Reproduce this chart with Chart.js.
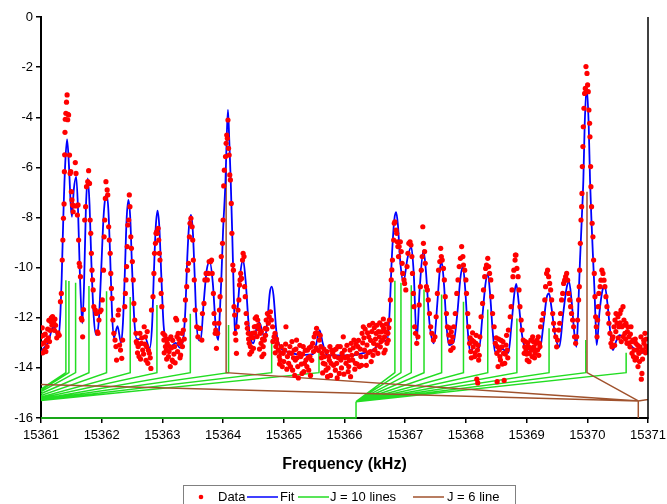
<!DOCTYPE html>
<html lang="en">
<head>
<meta charset="UTF-8">
<title>Spectrum and fit</title>
<script src="https://cdn.jsdelivr.net/npm/chart.js"></script>
<style>
  html, body { margin: 0; padding: 0; background: #fff; }
  .wrap { width: 667px; height: 504px; }
</style>
</head>
<body>
<div class="wrap"><canvas id="spectrum" width="667" height="504"></canvas></div>
<script>
// tick labels
const xTicks = [15361, 15362, 15363, 15364, 15365, 15366, 15367, 15368, 15369, 15370, 15371];
const yTicks = [0, -2, -4, -6, -8, -10, -12, -14, -16];

// measured points [frequency kHz, signal]
const dataPoints = [
[15361.00,-12.75],[15361.01,-13.05],[15361.02,-12.40],[15361.03,-13.40],[15361.04,-12.70],[15361.05,-13.00],[15361.06,-13.30],[15361.07,-12.65],[15361.08,-13.35],[15361.09,-12.90],[15361.10,-13.15],[15361.11,-12.45],[15361.12,-12.80],[15361.13,-12.10],[15361.14,-12.95],[15361.15,-12.50],[15361.16,-12.15],[15361.17,-12.00],[15361.18,-12.30],[15361.19,-11.95],[15361.20,-12.10],[15361.21,-12.20],[15361.22,-12.50],[15361.23,-12.05],[15361.24,-12.30],[15361.26,-12.80],[15361.28,-12.60],[15361.30,-12.70],
[15361.32,-11.36],[15361.335,-11.03],[15361.35,-9.70],[15361.36,-8.90],[15361.37,-8.03],[15361.38,-7.46],[15361.385,-6.17],[15361.39,-5.50],[15361.395,-4.60],[15361.40,-4.08],[15361.41,-3.84],[15361.42,-3.40],[15361.43,-3.11],[15361.44,-4.10],[15361.445,-3.88],[15361.455,-3.91],[15361.47,-5.51],[15361.48,-6.24],[15361.49,-6.17],[15361.50,-6.97],[15361.51,-7.30],[15361.52,-7.50],[15361.53,-7.77],
[15361.54,-7.54],[15361.565,-5.81],[15361.577,-6.24],[15361.588,-7.54],[15361.60,-7.90],[15361.61,-7.50],[15361.62,-8.90],[15361.63,-9.83],[15361.64,-9.96],[15361.65,-10.36],[15361.665,-12.02],[15361.675,-12.09],[15361.686,-12.76],[15361.70,-11.67],
[15361.72,-8.10],[15361.735,-7.57],[15361.75,-6.77],[15361.77,-6.57],[15361.785,-6.13],[15361.80,-6.64],[15361.81,-8.10],[15361.82,-8.63],[15361.83,-9.43],[15361.84,-10.10],[15361.85,-10.49],[15361.86,-10.89],[15361.87,-11.56],[15361.895,-11.69],[15361.91,-11.83],[15361.93,-12.56],[15361.94,-12.62],[15361.955,-12.09],[15361.97,-11.76],[15361.99,-11.69],[15362.01,-11.29],
[15362.03,-10.10],[15362.04,-8.77],[15362.05,-8.10],[15362.06,-7.24],[15362.07,-6.57],[15362.09,-6.90],[15362.10,-7.10],[15362.115,-8.37],[15362.125,-8.90],[15362.14,-9.43],[15362.15,-10.23],[15362.16,-10.83],[15362.17,-11.23],[15362.185,-12.09],[15362.20,-12.62],[15362.22,-12.89],[15362.235,-13.15],[15362.245,-13.69],[15362.27,-11.89],[15362.28,-11.69],[15362.295,-13.09],[15362.31,-13.29],[15362.33,-13.62],[15362.345,-12.89],
[15362.38,-11.56],[15362.39,-11.03],[15362.40,-10.49],[15362.41,-9.96],[15362.42,-9.16],[15362.43,-8.30],[15362.445,-8.10],[15362.455,-7.10],[15362.465,-7.57],[15362.48,-8.77],[15362.49,-9.23],[15362.505,-9.76],[15362.52,-10.49],[15362.53,-11.43],[15362.545,-12.09],[15362.565,-12.62],[15362.58,-13.02],[15362.60,-13.15],[15362.615,-13.55],[15362.63,-12.62],[15362.655,-13.02],[15362.675,-13.29],[15362.70,-12.36],[15362.72,-12.76],[15362.74,-13.15],[15362.76,-13.82],[15362.785,-13.42],[15362.81,-14.02],[15362.82,-11.69],
[15362.845,-11.16],[15362.86,-10.23],[15362.87,-9.43],[15362.885,-9.03],[15362.895,-8.63],[15362.905,-8.57],[15362.915,-8.63],[15362.93,-8.43],[15362.94,-8.90],[15362.95,-9.43],[15362.96,-9.70],[15362.97,-10.49],[15362.98,-11.03],[15362.99,-11.56],[15363.01,-12.62],[15363.025,-12.89],[15363.05,-13.15],[15363.065,-13.29],[15363.08,-13.02],[15363.10,-13.55],[15363.12,-13.15],[15363.14,-12.76],[15363.16,-13.69],[15363.175,-13.75],[15363.20,-13.15],[15363.22,-12.02],[15363.235,-12.09],[15363.26,-12.62],[15363.28,-13.02],[15363.30,-13.49],[15363.32,-12.62],[15363.345,-12.49],[15363.37,-12.09],[15363.38,-11.29],
[15363.40,-10.76],[15363.415,-10.10],[15363.43,-9.83],[15363.445,-8.77],[15363.455,-8.23],[15363.47,-8.03],[15363.49,-8.37],[15363.50,-8.90],[15363.51,-9.70],[15363.525,-10.49],[15363.54,-11.69],[15363.565,-12.36],[15363.585,-12.76],[15363.61,-12.42],
[15363.62,-12.42],[15363.65,-12.89],[15363.66,-11.83],[15363.685,-11.43],[15363.70,-10.49],[15363.72,-10.23],[15363.74,-10.49],[15363.755,-10.23],[15363.77,-9.76],[15363.795,-9.76],[15363.81,-9.70],[15363.82,-10.23],[15363.84,-11.03],[15363.85,-11.83],[15363.86,-12.22],[15363.87,-12.62],[15363.88,-12.49],[15363.89,-13.22],[15363.91,-12.62],[15363.93,-12.22],[15363.94,-11.69],[15363.95,-11.16],[15363.96,-10.49],[15363.97,-9.56],[15363.99,-9.03],[15364.00,-8.10],[15364.01,-6.74],[15364.02,-6.11],[15364.04,-5.57],[15364.05,-5.04],[15364.06,-4.71],[15364.07,-4.84],[15364.08,-4.11],[15364.09,-5.24],[15364.10,-5.51],[15364.11,-6.30],[15364.12,-6.50],[15364.135,-7.44],[15364.145,-8.63],[15364.16,-9.90],[15364.17,-10.10],[15364.18,-11.56],[15364.19,-11.89],[15364.20,-12.62],[15364.21,-12.89],[15364.22,-13.42],[15364.235,-12.36],[15364.245,-11.69],[15364.26,-11.29],[15364.27,-10.69],[15364.28,-10.49],[15364.29,-10.23],[15364.305,-10.43],[15364.32,-9.70],[15364.33,-9.43],[15364.345,-9.56],[15364.355,-10.76],[15364.365,-11.16],[15364.38,-11.83],[15364.39,-12.22],[15364.40,-12.42],[15364.415,-12.62],[15364.43,-13.02],[15364.45,-13.15],[15364.465,-12.76],[15364.48,-12.62],[15364.50,-13.22],[15364.515,-12.36],[15364.53,-12.02],[15364.55,-11.96],[15364.57,-12.09],[15364.585,-12.29],[15364.61,-12.62],[15364.625,-13.02],[15364.64,-13.55],[15364.66,-13.15],[15364.68,-12.89],[15364.695,-12.42],[15364.71,-12.09],[15364.73,-11.83],[15364.745,-12.22],[15364.76,-11.96],[15364.78,-11.76],[15364.795,-12.09],[15364.815,-12.36],[15364.84,-12.76],[15364.855,-12.62],[15364.87,-13.15],[15364.89,-13.02],[15364.91,-13.29],[15364.925,-13.55],[15364.94,-13.69],[15364.96,-13.15],[15364.975,-13.95],[15364.99,-13.42],
[15365.015,-13.29],[15365.035,-12.36],[15365.06,-13.55],[15365.08,-13.82],[15365.10,-13.15],[15365.125,-13.42],[15365.145,-14.09],[15365.17,-13.29],[15365.19,-13.69],[15365.21,-12.89],[15365.23,-13.95],[15365.255,-13.42],[15365.28,-13.55],[15365.30,-14.22],[15365.32,-13.15],[15365.34,-13.82],[15365.365,-13.69],[15365.39,-13.29],[15365.41,-14.09],[15365.43,-13.55],[15365.45,-13.15],[15365.475,-13.02],[15365.50,-12.76],[15365.52,-12.62],[15365.54,-12.42],[15365.56,-12.62],[15365.585,-12.89],[15365.61,-13.15],[15365.63,-13.42],[15365.65,-13.82],[15365.67,-13.55],[15365.695,-14.09],[15365.72,-14.35],[15365.74,-13.55],[15365.76,-13.15],[15365.78,-13.82],[15365.805,-13.42],[15365.83,-13.29],[15365.85,-14.09],[15365.87,-13.82],[15365.89,-13.15],[15365.915,-14.22],[15365.94,-13.69],[15365.96,-13.42],[15365.98,-12.76],[15366.00,-13.29],[15366.025,-13.82],[15366.05,-13.55],[15366.07,-13.95],[15366.09,-13.29],[15366.11,-13.02],[15366.135,-13.69],[15366.155,-12.89],[15366.18,-13.82],[15366.20,-13.42],[15366.22,-13.15],[15366.245,-13.95],[15366.27,-13.55],[15366.29,-12.62],[15366.31,-12.36],
[15366.33,-13.29],[15366.35,-13.55],[15366.37,-13.09],[15366.40,-12.76],[15366.425,-13.35],[15366.44,-13.75],[15366.465,-12.22],[15366.48,-13.02],[15366.50,-13.29],[15366.52,-12.62],[15366.535,-13.09],[15366.55,-13.42],[15366.575,-12.76],[15366.59,-13.16],[15366.61,-12.56],[15366.63,-12.89],[15366.645,-12.42],[15366.66,-12.76],[15366.67,-13.29],[15366.68,-12.56],[15366.70,-13.02],[15366.715,-12.62],
[15366.74,-12.09],[15366.755,-11.29],[15366.77,-10.49],[15366.78,-10.09],[15366.79,-9.70],[15366.81,-8.90],[15366.82,-8.23],[15366.83,-8.17],[15366.85,-8.50],[15366.86,-8.63],[15366.87,-8.97],[15366.88,-9.16],[15366.89,-9.56],[15366.90,-9.16],[15366.92,-8.97],[15366.935,-9.36],[15366.95,-9.83],[15366.96,-10.23],[15366.98,-10.49],[15366.99,-10.63],[15367.01,-10.89],
[15367.03,-9.96],[15367.045,-9.43],[15367.06,-9.03],[15367.08,-8.97],[15367.095,-9.10],[15367.11,-9.56],[15367.12,-10.23],[15367.135,-11.03],[15367.145,-11.56],[15367.155,-12.36],[15367.17,-12.62],[15367.19,-13.02],[15367.21,-12.76],[15367.23,-11.49],[15367.25,-10.76],[15367.265,-10.10],
[15367.28,-9.56],[15367.29,-8.37],[15367.30,-9.03],[15367.32,-9.36],[15367.33,-9.83],[15367.35,-10.76],[15367.365,-10.89],[15367.38,-11.29],[15367.40,-11.83],[15367.42,-12.36],[15367.44,-12.62],[15367.465,-12.89],[15367.49,-12.76],[15367.51,-11.96],[15367.53,-11.03],
[15367.55,-10.10],[15367.57,-9.76],[15367.585,-9.23],[15367.595,-9.56],[15367.61,-9.70],[15367.63,-10.03],[15367.645,-10.49],[15367.66,-11.16],[15367.68,-11.83],[15367.695,-12.36],[15367.72,-12.69],[15367.74,-12.96],[15367.76,-12.56],[15367.78,-12.76],[15367.80,-12.36],[15367.825,-11.83],[15367.85,-11.03],
[15367.87,-10.49],[15367.89,-9.96],[15367.91,-9.63],[15367.93,-9.16],[15367.95,-9.56],[15367.96,-9.90],[15367.98,-10.10],[15368.00,-10.49],[15368.01,-11.03],[15368.03,-11.83],[15368.045,-12.36],[15368.06,-13.02],[15368.08,-13.35],[15368.10,-12.89],[15368.12,-13.16],[15368.145,-13.55],[15368.165,-13.02],[15368.18,-14.45],[15368.19,-13.29],[15368.195,-14.60],[15368.21,-13.69],[15368.23,-12.76],[15368.25,-11.96],
[15368.275,-11.43],[15368.29,-10.89],[15368.31,-10.36],[15368.325,-10.03],[15368.34,-9.90],[15368.36,-9.63],[15368.375,-9.96],[15368.39,-10.23],[15368.41,-10.49],[15368.425,-11.16],[15368.44,-11.83],[15368.465,-12.36],[15368.485,-13.02],[15368.51,-13.42],[15368.515,-14.55],[15368.53,-13.95],[15368.55,-13.29],[15368.57,-13.69],[15368.595,-13.16],[15368.62,-13.42],[15368.63,-14.50],[15368.64,-13.82],[15368.66,-13.09],[15368.68,-13.29],[15368.70,-12.49],
[15368.73,-11.96],[15368.745,-11.56],[15368.76,-10.89],[15368.775,-10.36],[15368.79,-10.10],[15368.81,-9.70],[15368.815,-9.50],[15368.825,-9.50],[15368.84,-10.03],[15368.86,-10.36],[15368.875,-10.89],[15368.89,-11.56],[15368.91,-12.09],[15368.925,-12.49],[15368.945,-12.89],[15368.97,-13.16],
[15368.96,-13.42],[15368.99,-13.29],[15369.01,-13.69],[15369.03,-13.16],[15369.045,-13.42],[15369.07,-12.89],[15369.083,-13.29],[15369.10,-12.76],[15369.12,-13.16],[15369.14,-13.42],[15369.155,-13.02],[15369.18,-13.29],[15369.193,-12.76],[15369.21,-13.02],[15369.23,-12.36],[15369.253,-12.09],[15369.275,-11.83],[15369.30,-11.29],[15369.313,-10.76],[15369.33,-10.23],[15369.346,-10.10],[15369.363,-10.36],[15369.38,-10.63],[15369.396,-10.89],[15369.413,-11.29],[15369.43,-11.83],[15369.445,-12.22],[15369.46,-12.49],[15369.48,-12.76],[15369.495,-13.16],[15369.51,-12.89],[15369.53,-12.49],[15369.545,-12.22],[15369.56,-11.83],[15369.577,-11.29],[15369.594,-11.03],[15369.61,-10.63],[15369.627,-10.50],[15369.643,-10.36],[15369.66,-10.23],[15369.676,-10.50],[15369.692,-11.03],[15369.71,-11.29],[15369.725,-11.56],[15369.74,-11.83],[15369.758,-12.09],[15369.775,-12.36],[15369.79,-12.76],[15369.808,-13.02],[15369.825,-12.76],[15369.84,-12.09],[15369.857,-11.29],[15369.868,-10.76],[15369.874,-10.10],[15369.885,-9.03],[15369.896,-8.10],[15369.907,-7.57],[15369.912,-7.04],[15369.918,-5.97],[15369.928,-5.17],[15369.934,-4.38],[15369.945,-3.64],[15369.956,-3.05],[15369.967,-2.85],[15369.978,-1.98],[15369.995,-2.25],[15370.005,-2.71],[15370.016,-2.98],[15370.027,-3.71],[15370.038,-4.24],[15370.044,-4.78],[15370.055,-5.97],[15370.06,-6.77],[15370.07,-7.57],[15370.08,-8.23],[15370.093,-8.77],[15370.104,-9.70],[15370.115,-10.23],[15370.126,-11.16],[15370.137,-11.96],[15370.148,-12.36],[15370.16,-12.76],[15370.17,-12.09],[15370.18,-11.56],[15370.19,-11.03],[15370.21,-10.76],[15370.225,-10.50],[15370.24,-10.10],[15370.258,-10.23],[15370.275,-10.50],[15370.29,-10.76],[15370.307,-11.16],[15370.324,-11.56],[15370.34,-11.83],[15370.357,-12.22],[15370.373,-12.62],[15370.39,-13.02],[15370.406,-13.16],[15370.423,-12.76],[15370.44,-12.36],[15370.456,-12.09],[15370.473,-11.83],[15370.49,-12.22],[15370.505,-11.96],[15370.52,-12.36],[15370.538,-11.83],[15370.555,-11.69],[15370.57,-12.36],[15370.588,-11.56],[15370.604,-12.09],[15370.62,-12.62],[15370.637,-12.22],[15370.654,-13.02],[15370.67,-12.36],[15370.686,-12.76],[15370.703,-13.16],[15370.72,-12.36],[15370.736,-13.42],[15370.752,-12.89],[15370.77,-13.29],[15370.786,-13.69],[15370.80,-13.02],[15370.82,-13.29],[15370.835,-13.95],[15370.85,-13.42],[15370.868,-13.16],[15370.884,-12.76],[15370.90,-14.22],[15370.917,-13.29],[15370.934,-13.02],[15370.95,-12.62],[15370.966,-13.16],[15370.98,-13.35],[15370.99,-13.15],
// second scan pass through the quiet stretches
[15362.57,-12.95],[15362.59,-13.40],[15362.62,-13.05],[15362.64,-13.65],[15362.66,-12.80],[15362.69,-13.45],[15362.71,-13.05],[15362.73,-13.70],[15362.75,-12.55],[15362.77,-13.30],[15362.80,-13.60],
[15363.03,-13.40],[15363.04,-12.70],[15363.07,-13.65],[15363.09,-12.85],[15363.11,-13.35],[15363.13,-13.95],[15363.15,-13.20],[15363.17,-12.90],[15363.19,-13.45],[15363.21,-13.80],[15363.24,-12.75],[15363.25,-13.35],[15363.27,-12.85],[15363.29,-13.60],[15363.31,-12.95],[15363.33,-13.15],[15363.36,-12.85],
[15364.42,-12.85],[15364.44,-13.45],[15364.47,-13.35],[15364.49,-12.80],[15364.52,-12.60],[15364.54,-12.35],[15364.56,-12.75],[15364.59,-12.45],[15364.60,-13.25],[15364.63,-12.55],[15364.65,-12.85],[15364.67,-13.45],[15364.70,-12.70],[15364.72,-12.45],[15364.82,-12.95],[15364.86,-13.40],[15364.88,-12.85],
[15364.93,-13.85],[15364.95,-13.40],[15365.00,-13.75],[15365.03,-13.05],[15365.05,-14.05],[15365.09,-13.40],[15365.11,-13.95],[15365.135,-12.95],[15365.16,-13.60],[15365.18,-14.30],[15365.20,-13.25],[15365.22,-13.60],[15365.24,-14.40],[15365.265,-13.10],[15365.29,-13.85],[15365.31,-13.45],[15365.33,-14.15],[15365.355,-13.30],[15365.38,-13.95],[15365.40,-13.60],[15365.42,-13.20],[15365.44,-14.30],[15365.46,-13.70],[15365.49,-13.35],[15365.53,-13.20],[15365.57,-13.30],[15365.60,-12.70],[15365.62,-13.60],[15365.64,-14.20],[15365.66,-13.25],[15365.68,-13.85],[15365.71,-13.35],[15365.73,-14.00],[15365.75,-13.70],[15365.77,-14.30],[15365.79,-13.30],[15365.82,-13.90],[15365.84,-13.55],[15365.86,-13.25],[15365.88,-14.40],[15365.90,-13.60],[15365.93,-13.15],[15365.95,-14.00],[15365.97,-13.55],[15365.99,-14.25],[15366.01,-13.60],[15366.04,-13.10],[15366.06,-14.15],[15366.08,-13.70],[15366.10,-14.35],[15366.12,-13.50],[15366.145,-13.20],[15366.17,-14.05],[15366.19,-13.05],[15366.21,-13.85],[15366.23,-12.90],[15366.26,-13.25],[15366.28,-13.90],[15366.30,-13.00],
[15366.32,-12.80],[15366.34,-12.45],[15366.36,-13.90],[15366.38,-12.60],[15366.39,-13.40],[15366.41,-12.30],[15366.43,-12.90],[15366.45,-12.55],[15366.47,-13.50],[15366.49,-12.40],[15366.51,-12.85],[15366.53,-12.30],[15366.56,-12.55],[15366.58,-12.20],[15366.60,-12.95],[15366.62,-12.30],[15366.64,-12.05],[15366.65,-13.40],[15366.69,-12.25],[15366.72,-12.90],[15366.73,-12.40],
[15367.73,-12.40],[15367.75,-13.30],[15367.77,-12.95],[15367.79,-13.20],[15368.07,-12.80],[15368.09,-13.60],[15368.11,-12.60],[15368.13,-12.95],[15368.15,-13.40],[15368.17,-12.70],[15368.20,-13.10],[15368.22,-13.50],
[15368.50,-12.80],[15368.52,-13.15],[15368.54,-12.85],[15368.56,-13.55],[15368.58,-12.90],[15368.60,-13.85],[15368.61,-12.95],[15368.65,-13.45],[15368.67,-12.70],[15368.69,-13.60],
[15368.98,-12.95],[15369.00,-13.45],[15369.02,-13.00],[15369.04,-13.75],[15369.06,-13.20],[15369.09,-13.55],[15369.11,-12.95],[15369.13,-13.60],[15369.15,-13.30],[15369.17,-12.90],[15369.20,-13.50],[15369.22,-13.15],
[15370.41,-12.85],[15370.45,-13.10],[15370.47,-12.55],[15370.51,-12.80],[15370.54,-12.20],[15370.56,-12.95],[15370.59,-12.75],[15370.61,-12.30],[15370.63,-12.85],[15370.66,-12.55],[15370.69,-13.00],[15370.71,-12.65],[15370.74,-12.95],[15370.76,-13.55],[15370.79,-12.85],[15370.81,-13.60],[15370.83,-13.10],[15370.86,-13.75],[15370.88,-13.35],[15370.89,-14.45],[15370.91,-13.65],[15370.93,-12.90],[15370.96,-13.40],[15370.97,-12.85],[15371.00,-13.20]
];

// fitted curve [frequency kHz, signal]
const fitCurve = [
[15361.00,-13.36],[15361.05,-13.20],[15361.10,-13.05],[15361.14,-12.80],[15361.18,-12.45],[15361.22,-12.35],[15361.26,-12.70],[15361.29,-12.80],[15361.32,-11.80],[15361.34,-10.50],[15361.37,-7.80],[15361.40,-5.80],[15361.43,-4.88],[15361.46,-5.90],[15361.49,-7.50],[15361.51,-7.97],[15361.54,-6.90],[15361.58,-6.37],[15361.61,-7.70],[15361.64,-10.20],[15361.68,-12.22],[15361.71,-10.60],[15361.74,-7.60],[15361.77,-6.44],[15361.80,-7.50],[15361.83,-9.80],[15361.87,-12.00],[15361.91,-12.69],[15361.95,-12.20],[15361.99,-10.20],[15362.03,-8.00],[15362.06,-7.20],[15362.08,-7.10],[15362.11,-7.70],[15362.14,-9.60],[15362.17,-11.80],[15362.20,-12.81],[15362.26,-12.34],[15362.32,-13.00],[15362.35,-12.20],[15362.38,-10.30],[15362.41,-8.10],[15362.44,-7.30],[15362.47,-8.00],[15362.50,-10.00],[15362.54,-12.20],[15362.58,-12.85],[15362.64,-12.85],[15362.71,-12.75],[15362.79,-13.22],[15362.83,-12.30],[15362.86,-10.20],[15362.89,-8.40],[15362.92,-7.73],[15362.95,-8.40],[15362.98,-10.20],[15363.02,-12.30],[15363.06,-12.89],[15363.14,-13.15],[15363.22,-13.00],[15363.29,-13.20],[15363.35,-12.70],[15363.38,-11.60],[15363.41,-9.60],[15363.44,-8.30],[15363.47,-7.90],[15363.50,-8.50],[15363.53,-10.20],[15363.56,-12.10],[15363.60,-12.90],[15363.63,-12.90],[15363.68,-11.40],[15363.73,-10.10],[15363.78,-9.76],[15363.83,-10.60],[15363.88,-12.40],[15363.92,-12.89],[15363.95,-11.60],[15363.97,-10.50],[15364.00,-8.50],[15364.04,-6.50],[15364.06,-4.80],[15364.08,-3.71],[15364.10,-4.80],[15364.125,-6.50],[15364.15,-8.60],[15364.17,-10.50],[15364.19,-12.30],[15364.20,-12.69],[15364.24,-11.60],[15364.29,-10.10],[15364.33,-9.70],[15364.37,-10.50],[15364.43,-12.50],[15364.50,-13.02],[15364.56,-12.30],[15364.60,-12.20],[15364.65,-12.60],[15364.69,-12.81],[15364.73,-12.10],[15364.77,-11.00],[15364.80,-10.76],[15364.83,-11.10],[15364.88,-12.60],[15364.94,-13.16],[15365.05,-13.35],[15365.20,-13.45],[15365.35,-13.48],[15365.48,-13.45],[15365.54,-13.00],[15365.59,-12.49],[15365.64,-13.00],[15365.71,-13.49],[15365.90,-13.50],[15366.10,-13.50],[15366.29,-13.42],[15366.45,-13.31],[15366.56,-13.09],[15366.65,-12.89],[15366.70,-12.95],[15366.74,-11.90],[15366.78,-9.60],[15366.82,-8.10],[15366.85,-7.79],[15366.88,-8.30],[15366.92,-9.80],[15366.97,-10.56],[15367.04,-9.60],[15367.10,-9.16],[15367.14,-10.20],[15367.19,-12.89],[15367.24,-10.80],[15367.30,-9.30],[15367.34,-10.10],[15367.40,-12.20],[15367.47,-13.02],[15367.53,-11.40],[15367.57,-10.10],[15367.60,-9.76],[15367.64,-10.70],[15367.68,-12.30],[15367.72,-13.09],[15367.80,-12.95],[15367.86,-11.80],[15367.91,-10.40],[15367.95,-9.96],[15367.99,-10.90],[15368.03,-12.50],[15368.07,-13.36],[15368.16,-13.02],[15368.22,-13.20],[15368.27,-12.00],[15368.32,-10.70],[15368.36,-10.23],[15368.40,-11.10],[15368.44,-12.50],[15368.48,-13.36],[15368.60,-13.25],[15368.70,-13.40],[15368.75,-12.30],[15368.80,-11.00],[15368.83,-10.65],[15368.87,-11.40],[15368.92,-12.60],[15368.96,-13.09],[15369.10,-13.29],[15369.22,-13.25],[15369.28,-12.20],[15369.33,-11.20],[15369.37,-11.03],[15369.41,-11.60],[15369.47,-12.70],[15369.54,-13.16],[15369.60,-11.90],[15369.66,-10.80],[15369.70,-10.56],[15369.74,-11.30],[15369.79,-12.70],[15369.82,-13.16],[15369.84,-12.40],[15369.86,-11.00],[15369.88,-9.70],[15369.91,-8.00],[15369.935,-6.50],[15369.957,-4.30],[15369.99,-2.78],[15370.023,-4.30],[15370.045,-6.50],[15370.07,-8.20],[15370.10,-9.90],[15370.12,-11.00],[15370.14,-12.40],[15370.155,-13.09],[15370.20,-11.80],[15370.25,-10.90],[15370.29,-10.76],[15370.33,-11.40],[15370.38,-12.60],[15370.42,-13.29],[15370.48,-12.90],[15370.53,-12.69],[15370.65,-12.96],[15370.78,-13.25],[15370.87,-13.42],[15371.00,-13.29]
];

// J = 10 stick diagram: two groups, each fanning out of one lower-level node
const j10Roots = [[15360.67, -15.38], [15366.19, -15.35]];
const j10Freq = [
  [15361.41, 15361.46, 15361.57, 15361.79, 15362.08, 15362.47, 15362.91, 15363.46, 15364.09, 15364.80, 15365.58],
  [15366.83, 15366.93, 15367.10, 15367.31, 15367.60, 15367.96, 15368.36, 15368.84, 15369.37, 15369.975, 15370.64]
];
const j10Top = [
  [-10.50, -10.53, -10.60, -10.73, -10.94, -11.17, -11.49, -11.84, -12.29, -12.85, -13.35],
  [-10.52, -10.60, -10.70, -10.87, -11.07, -11.36, -11.67, -12.03, -12.42, -12.89, -13.40]
];
const j10Link = [[15360.67, -16], [15366.19, -16], [15366.19, -15.35]];
const stickBase = -14.19;

// J = 6 stick diagram
const j6Root = [15370.84, -15.32];
const j6Freq = [15364.05, 15369.995];
const j6Top = [-6.10, -6.97];
const j6Branches = [[15360.5, -14.63], [15371.3, -15.15]];

const gap = x => ({x: x, y: null});
const pt = p => ({x: p[0], y: p[1]});

const greenPts = [];
j10Roots.forEach((root, g) => {
  j10Freq[g].forEach((f, i) => {
    greenPts.push(pt(root), {x: f, y: stickBase}, {x: f, y: j10Top[g][i]}, gap(f));
  });
});
j10Link.forEach(p => greenPts.push(pt(p)));

const brownPts = [{x: j6Root[0], y: -16}, pt(j6Root)];
j6Freq.forEach((f, i) => {
  brownPts.push({x: f, y: stickBase}, {x: f, y: j6Top[i]}, gap(f), pt(j6Root));
});
j6Branches.forEach(p => brownPts.push(pt(p), gap(p[0]), pt(j6Root)));

// legend: dataset index, marker start x, text start x
const legendOrder = [0, 1, 3, 2];
const legendMarkX = [186, 247, 298, 413];
const legendTextX = [218, 280, 330, 447];

const frameAndLegend = {
  id: 'frameAndLegend',
  afterDraw(chart) {
    const c = chart.ctx;
    const a = chart.chartArea;
    c.save();
    c.strokeStyle = '#000';
    c.lineWidth = 1.5;
    c.beginPath();
    c.moveTo(a.right, a.top);
    c.lineTo(a.right, a.bottom + 1);
    c.stroke();

    const y = 497;
    c.font = '13px "Liberation Sans", Arial, sans-serif';
    c.textBaseline = 'middle';
    legendOrder.forEach((di, k) => {
      const ds = chart.data.datasets[di];
      const mx = legendMarkX[k];
      if (ds.showLine) {
        c.strokeStyle = ds.borderColor;
        c.lineWidth = 1.5;
        c.beginPath();
        c.moveTo(mx, y);
        c.lineTo(mx + 31, y);
        c.stroke();
      } else {
        c.fillStyle = ds.pointBackgroundColor;
        c.beginPath();
        c.arc(mx + 15, y, 2.3, 0, Math.PI * 2);
        c.fill();
      }
      c.fillStyle = '#000';
      c.fillText(ds.label, legendTextX[k], y);
    });
    c.strokeStyle = '#808080';
    c.lineWidth = 1;
    c.strokeRect(183.5, 485.5, 332, 30);
    c.restore();
  }
};

Chart.defaults.font.family = '"Liberation Sans", Arial, sans-serif';
Chart.defaults.font.size = 13;
Chart.defaults.color = '#000';

new Chart(document.getElementById('spectrum'), {
  type: 'scatter',
  data: {
    datasets: [
      {
        label: 'Data',
        data: dataPoints.map(pt),
        showLine: false,
        pointRadius: 2.6,
        pointBackgroundColor: '#ff0000',
        pointBorderWidth: 0,
        order: 0
      },
      {
        label: 'Fit',
        data: fitCurve.map(pt),
        showLine: true,
        borderColor: '#0000ff',
        borderWidth: 1.8,
        pointRadius: 0,
        cubicInterpolationMode: 'monotone',
        order: 1
      },
      {
        label: 'J = 6 line',
        data: brownPts,
        showLine: true,
        borderColor: '#a0522d',
        borderWidth: 1.5,
        pointRadius: 0,
        clip: {left: 0, top: 0, right: 0, bottom: 1},
        order: 2
      },
      {
        label: 'J = 10 lines',
        data: greenPts,
        showLine: true,
        borderColor: '#22dd22',
        borderWidth: 1.5,
        pointRadius: 0,
        clip: {left: 0, top: 0, right: 0, bottom: 1},
        order: 3
      }
    ]
  },
  options: {
    responsive: false,
    animation: false,
    events: [],
    layout: { padding: { left: 0, top: 17, right: 19, bottom: 26 } },
    plugins: {
      legend: { display: false },
      tooltip: { enabled: false }
    },
    scales: {
      x: {
        type: 'linear',
        min: 15361,
        max: 15371,
        afterBuildTicks: s => { s.ticks = xTicks.map(v => ({value: v})); },
        afterFit: s => { s.height = 60; s.paddingLeft = 0; s.paddingRight = 0; },
        ticks: { callback: v => String(v), padding: 5, maxRotation: 0, font: { size: 13 } },
        grid: { drawOnChartArea: false, drawTicks: true, tickLength: 5, color: '#000', lineWidth: 1.5 },
        border: { display: true, color: '#000', width: 2 },
        title: { display: true, text: 'Frequency (kHz)', font: { size: 16, weight: 'bold' } }
      },
      y: {
        type: 'linear',
        min: -16,
        max: 0,
        afterBuildTicks: s => { s.ticks = yTicks.map(v => ({value: v})); },
        afterFit: s => { s.width = 41; s.paddingTop = 0; s.paddingBottom = 0; },
        ticks: { callback: v => String(v), padding: 3, font: { size: 13 } },
        grid: { drawOnChartArea: false, drawTicks: true, tickLength: 5, color: '#000', lineWidth: 1.5 },
        border: { display: true, color: '#000', width: 2 }
      }
    }
  },
  plugins: [frameAndLegend]
});
</script>
</body>
</html>
